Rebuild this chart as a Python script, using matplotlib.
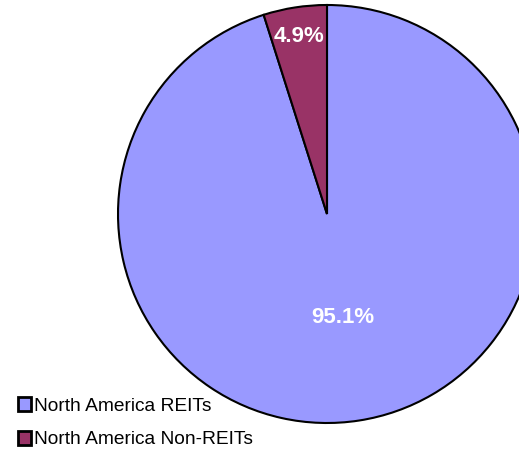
import matplotlib.pyplot as plt
import numpy as np

plt.rcParams['font.family'] = ['Liberation Sans', 'DejaVu Sans']

labels = ['North America REITs', 'North America Non-REITs']
shares = [95.1, 4.9]
colors = ['#9999FF', '#993366']
label_dist = [0.5, 0.86]

fig = plt.figure(figsize=(5.19, 4.54), dpi=100)
# axes placed so the pie sits where the reference has it
ax = fig.add_axes([118 / 519, 31 / 454, 418 / 519, 418 / 454])
wedges, _ = ax.pie(shares, colors=colors, startangle=90, counterclock=False,
                   radius=1, wedgeprops=dict(edgecolor='black', linewidth=1.5))
ax.set_xlim(-1, 1)
ax.set_ylim(-1, 1)
ax.set_aspect('equal')
ax.axis('off')
for w in wedges:
    w.set_clip_on(False)

for w, v, d in zip(wedges, shares, label_dist):
    mid = np.deg2rad((w.theta1 + w.theta2) / 2)
    ax.text(d * np.cos(mid), d * np.sin(mid), '%.1f%%' % v, ha='center', va='center',
            color='white', fontsize=16, fontweight='bold')

leg = fig.legend(wedges, labels, loc='lower left', bbox_to_anchor=(6 / 519, -6 / 454),
                 frameon=False, fontsize=13.8, handlelength=0.7, handleheight=0.7,
                 handletextpad=0.15, labelspacing=0.85, borderaxespad=0.2)
for h in leg.legend_handles:
    h.set_linewidth(2)

fig.savefig('out.png', dpi=100)
